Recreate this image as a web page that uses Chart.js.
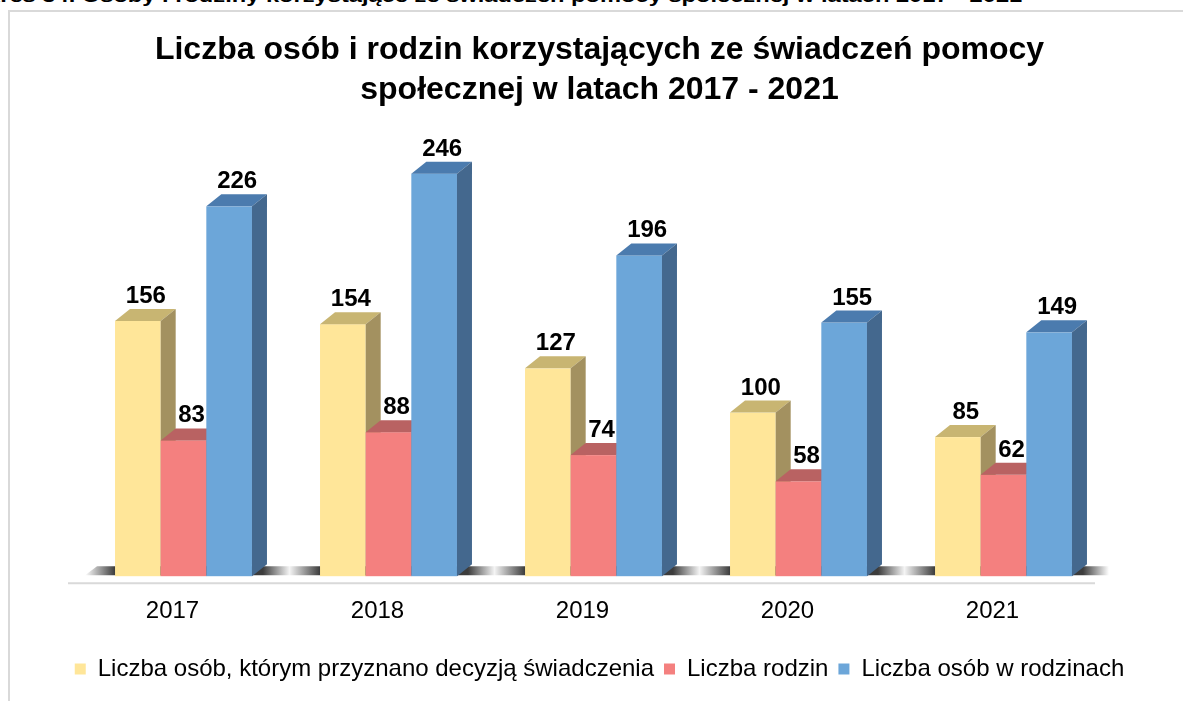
<!DOCTYPE html>
<html>
<head>
<meta charset="utf-8">
<script src="https://cdn.jsdelivr.net/npm/chart.js@4/dist/chart.umd.min.js"></script>
<style>
  html, body { margin:0; padding:0; background:#fff; }
  #wrap { position:relative; width:1183px; height:701px; overflow:hidden; background:#fff; }
  #frame { position:absolute; left:8px; top:10px; width:1200px; height:720px; border:2px solid #d9d9d9; box-sizing:border-box; }
  #cut { position:absolute; top:-13px; left:0; white-space:nowrap; font:bold 18px "Liberation Sans", Arial, sans-serif; line-height:18px; color:#000; transform-origin:0 0; }
  canvas { position:absolute; left:0; top:0; }
</style>
</head>
<body>
<div id="wrap">
  <div id="cut">Wykres 34. Osoby i rodziny korzystające ze świadczeń pomocy społecznej w latach 2017 - 2021</div>
  <div id="frame"></div>
  <canvas id="c" width="1183" height="701"></canvas>
</div>
<script>
// ---- data ----
const categories = ['2017', '2018', '2019', '2020', '2021'];
const seriesNames = ['Liczba osób, którym przyznano decyzją świadczenia', 'Liczba rodzin', 'Liczba osób w rodzinach'];
const osobyDecyzja = [156, 154, 127, 100, 85];
const rodziny = [83, 88, 74, 58, 62];
const osobyWRodzinach = [226, 246, 196, 155, 149];
const titleLines = ['Liczba osób i rodzin korzystających ze świadczeń pomocy', 'społecznej w latach 2017 - 2021'];

// ---- cut-off caption fit ----
(function(){
  const el = document.getElementById('cut');
  const m = document.createElement('canvas').getContext('2d');
  m.font = 'bold 18px "Liberation Sans", Arial, sans-serif';
  const full = m.measureText(el.textContent).width;
  const pre = m.measureText('Wyk').width;
  const s = 1022 / (full - pre);
  el.style.left = (-pre * s) + 'px';
  el.style.transform = 'scaleX(' + s + ')';
})();

const FONT = '"Liberation Sans", Arial, sans-serif';
const SHIFT = 11, DX = 15, DY = 12;
const faces = [
  { front: '#FFE699', top: '#C8B572', side: '#A39160' },
  { front: '#F4807F', top: '#B96262', side: '#9E4F4F' },
  { front: '#6CA6D9', top: '#4B7BAE', side: '#44688E' }
];

const bars3d = {
  id: 'bars3d',
  beforeDatasetsDraw(chart) {
    const ctx = chart.ctx;
    const ca = chart.chartArea;
    const metas = chart.data.datasets.map((d, i) => chart.getDatasetMeta(i));
    const n = categories.length;
    const geo = [];
    for (let j = 0; j < n; j++) {
      geo.push(metas.map(m => {
        const p = m.data[j].getProps(['x', 'y', 'base', 'width'], true);
        return { l: p.x - p.width / 2 + SHIFT, r: p.x + p.width / 2 + SHIFT, t: p.y, b: p.base };
      }));
    }
    ctx.save();
    // floor line
    ctx.strokeStyle = '#d9d9d9';
    ctx.lineWidth = 2;
    ctx.beginPath();
    ctx.moveTo(ca.left - 2, ca.bottom + 7);
    ctx.lineTo(ca.right, ca.bottom + 7);
    ctx.stroke();
    // floor edge strip
    const x0 = geo[0][0].l - 30;
    const x1 = geo[n - 1][2].r + DX + 22;
    const yb = ca.bottom - 1, yt = ca.bottom - 10;
    const g = ctx.createLinearGradient(x0, 0, x1, 0);
    const light = 'rgba(255,255,255,1)', dark = '#3c3c3c';
    const st = v => Math.min(1, Math.max(0, (v - x0) / (x1 - x0)));
    g.addColorStop(0, light);
    for (let j = 0; j < n; j++) {
      const L = geo[j][0].l, R = geo[j][2].r + DX;
      g.addColorStop(st(L), dark);
      g.addColorStop(st(R - 4), dark);
      if (j < n - 1) {
        const L2 = geo[j + 1][0].l;
        g.addColorStop(st((R + L2) / 2 - 4), '#f4f4f4');
      }
    }
    g.addColorStop(1, light);
    ctx.fillStyle = g;
    ctx.beginPath();
    ctx.moveTo(x0, yb);
    ctx.lineTo(x0 + 12, yt);
    ctx.lineTo(x1 + 12, yt);
    ctx.lineTo(x1, yb);
    ctx.closePath();
    ctx.fill();
    // bars
    for (let j = 0; j < n; j++) {
      for (let i = 0; i < metas.length; i++) {
        const q = geo[j][i], c = faces[i];
        ctx.fillStyle = c.front;
        ctx.fillRect(q.l, q.t, q.r - q.l, q.b - q.t);
        ctx.fillStyle = c.top;
        ctx.beginPath();
        ctx.moveTo(q.l, q.t); ctx.lineTo(q.l + DX, q.t - DY); ctx.lineTo(q.r + DX, q.t - DY); ctx.lineTo(q.r, q.t);
        ctx.closePath(); ctx.fill();
        ctx.fillStyle = c.side;
        ctx.beginPath();
        ctx.moveTo(q.r, q.t); ctx.lineTo(q.r + DX, q.t - DY); ctx.lineTo(q.r + DX, q.b - DY); ctx.lineTo(q.r, q.b);
        ctx.closePath(); ctx.fill();
      }
    }
    // labels
    ctx.fillStyle = '#000';
    ctx.font = 'bold 24px ' + FONT;
    ctx.textAlign = 'center';
    ctx.textBaseline = 'alphabetic';
    for (let j = 0; j < n; j++) {
      for (let i = 0; i < metas.length; i++) {
        const q = geo[j][i];
        const v = chart.data.datasets[i].data[j];
        ctx.fillText(String(v), (q.l + q.r) / 2 + 8, q.t - 18);
      }
    }
    ctx.restore();
    return false;
  }
};

new Chart(document.getElementById('c'), {
  type: 'bar',
  data: {
    labels: categories,
    datasets: [
      { label: seriesNames[0], data: osobyDecyzja, backgroundColor: faces[0].front, borderWidth: 0 },
      { label: seriesNames[1], data: rodziny, backgroundColor: faces[1].front, borderWidth: 0 },
      { label: seriesNames[2], data: osobyWRodzinach, backgroundColor: faces[2].front, borderWidth: 0 }
    ]
  },
  options: {
    responsive: false,
    animation: false,
    devicePixelRatio: 1,
    datasets: { bar: { barPercentage: 1, categoryPercentage: 0.668 } },
    layout: { padding: { top: 16, left: 16, right: 0, bottom: 10 } },
    scales: {
      x: {
        grid: { display: false, drawTicks: false },
        border: { display: false },
        ticks: { color: '#000', font: { family: FONT, size: 24 }, padding: 21 }
      },
      y: {
        min: 0, max: 280,
        grid: { display: false, drawTicks: false },
        border: { display: false },
        ticks: { display: false },
        afterFit(s) { s.width = 54; }
      },
      y2: {
        type: 'linear', position: 'right',
        grid: { display: false, drawTicks: false },
        border: { display: false },
        ticks: { display: false },
        afterFit(s) { s.width = 88; }
      }
    },
    plugins: {
      tooltip: { enabled: false },
      title: {
        display: true,
        text: titleLines,
        color: '#000',
        font: { family: FONT, size: 32, weight: 'bold', lineHeight: 40 / 32 },
        padding: { top: 14, bottom: 8 }
      },
      legend: {
        position: 'bottom',
        labels: {
          color: '#000',
          font: { family: FONT, size: 24 },
          boxWidth: 11,
          boxHeight: 11,
          padding: 10
        }
      }
    }
  },
  plugins: [bars3d]
});
</script>
</body>
</html>
